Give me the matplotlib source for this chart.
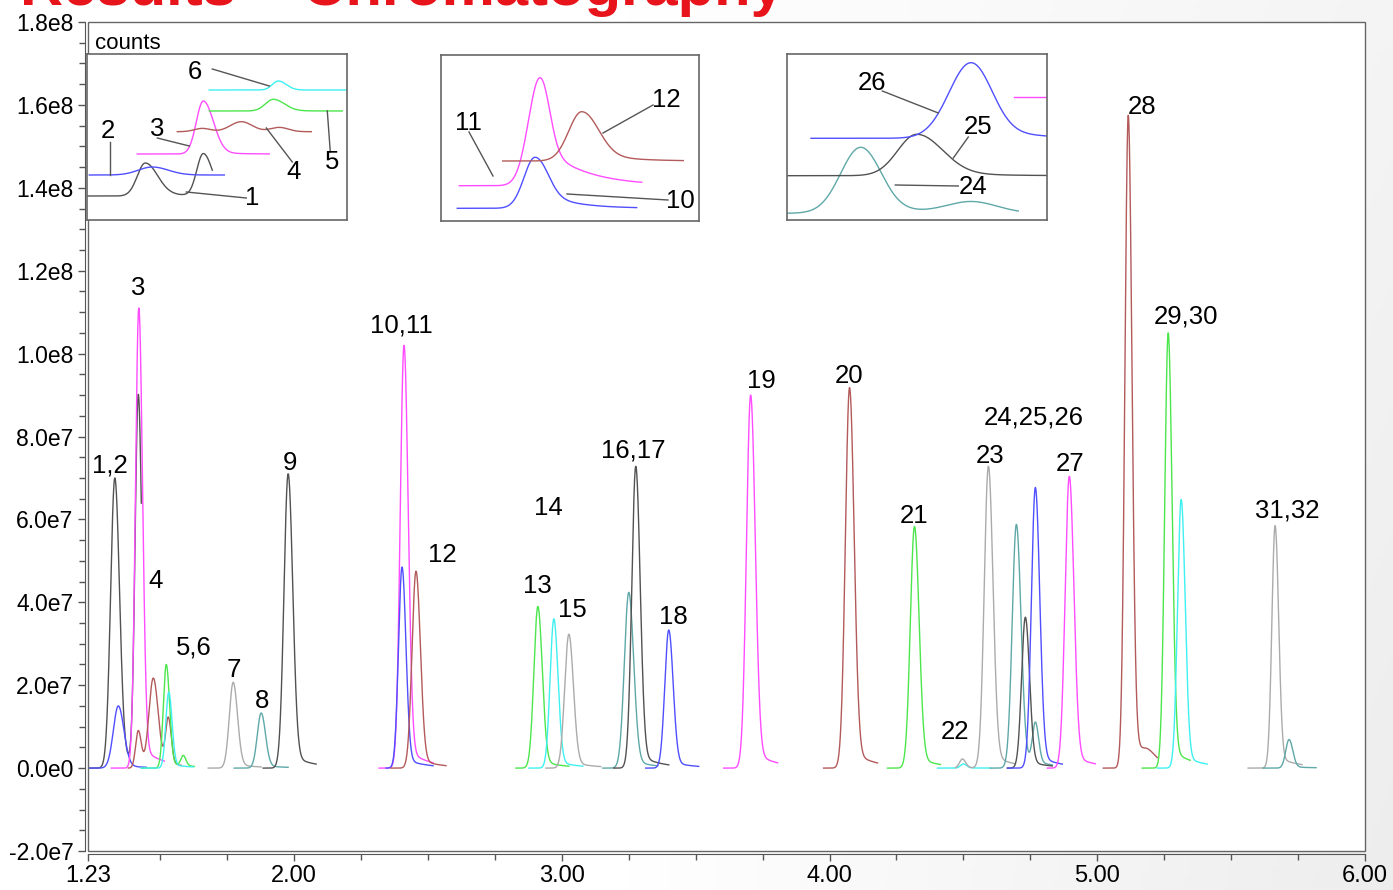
import numpy as np
import matplotlib
matplotlib.use("Agg")
import matplotlib.pyplot as plt
from matplotlib.patches import Rectangle
from matplotlib.ticker import FixedLocator

plt.rcParams['font.family'] = ['Liberation Sans', 'DejaVu Sans']

# ---------------- main chromatogram data ----------------
DG, BL, MG, BR, GR, CY, LG, TL = ('#525252', '#4f4fff', '#ff4cff', '#b35a5a',
                                  '#4ce64c', '#3ff0f0', '#ababab', '#5fa8a8')

trace_color = [DG, BL, MG, BR, GR, CY, LG, TL, DG, MG, BL, BR, GR, CY, LG, TL,
               DG, BL, MG, BR, GR, CY, LG, TL, DG, BL, MG, BR, GR, CY, LG, TL]
trace_start = [1.2301, 1.2301, 1.3172, 1.3806, 1.4291, 1.4291, 1.6791, 1.7761,
               1.8843, 2.3172, 2.3433, 2.3619, 2.8284, 2.8769, 2.9403, 3.1530,
               3.1940, 3.3134, 3.6045, 3.9776, 4.2164, 4.4030, 4.4701, 4.6007,
               4.6642, 4.6642, 4.8134, 5.0224, 5.1679, 5.2239, 5.5634, 5.6194]
trace_end = [1.4291, 1.4478, 1.5149, 1.5784, 1.6269, 1.6231, 1.8769, 1.9776,
             2.0821, 2.5187, 2.5187, 2.5672, 3.0261, 3.0784, 3.1455, 3.3582,
             3.3993, 3.5112, 3.8060, 4.1791, 4.4142, 4.6007, 4.6940, 4.8321,
             4.8321, 4.8694, 4.9925, 5.2239, 5.3470, 5.4104, 5.7649, 5.8172]

# peaks: trace index, retention time (min), height (counts), width sigma (min)
peak_trace = [0, 0, 1, 2, 3, 3, 3, 4, 4, 5, 6, 7, 8, 9, 10, 11, 12, 13, 14, 15,
              16, 17, 18, 19, 20, 21, 22, 22, 23, 23, 24, 25, 26, 27, 27, 28,
              29, 30, 31]
peak_rt = [1.3302, 1.4179, 1.3433, 1.4198, 1.4179, 1.4739, 1.5299, 1.5224,
           1.5858, 1.5317, 1.7724, 1.8769, 1.9776, 2.4104, 2.4030, 2.4552,
           2.9104, 2.9701, 3.0261, 3.2500, 3.2761, 3.3993, 3.7052, 4.0746,
           4.3172, 4.5000, 4.4963, 4.5933, 4.6978, 4.7687, 4.7313, 4.7687,
           4.8955, 5.1157, 5.1903, 5.2649, 5.3134, 5.6642, 5.7164]
peak_height = [7.00e7, 8.90e7, 1.50e7, 1.11e8, 9.0e6, 2.15e7, 1.15e7, 2.50e7,
               2.5e6, 1.83e7, 2.07e7, 1.33e7, 7.10e7, 1.02e8, 4.85e7, 4.75e7,
               3.90e7, 3.60e7, 3.23e7, 4.24e7, 7.28e7, 3.33e7, 9.00e7, 9.18e7,
               5.83e7, 1.0e6, 2.2e6, 7.28e7, 5.88e7, 9.9e6, 3.64e7, 6.77e7,
               7.04e7, 1.575e8, 1.5e6, 1.05e8, 6.48e7, 5.85e7, 6.9e6]
peak_sigma = [0.0157, 0.0119, 0.0187, 0.0125, 0.0100, 0.0165, 0.0100, 0.0110,
              0.0090, 0.0110, 0.0145, 0.0145, 0.0155, 0.0140, 0.0132, 0.0148,
              0.0148, 0.0140, 0.0155, 0.0165, 0.0148, 0.0148, 0.0155, 0.0155,
              0.0155, 0.0110, 0.0110, 0.0155, 0.0155, 0.0110, 0.0140, 0.0148,
              0.0155, 0.0125, 0.0200, 0.0130, 0.0135, 0.0120, 0.0125]

# peak labels
label_text = ["1,2", "3", "4", "5,6", "7", "8", "9", "10,11", "12", "13", "14",
              "15", "16,17", "18", "19", "20", "21", "22", "23", "24,25,26",
              "27", "28", "29,30", "31,32"]
label_t = [1.3108, 1.4179, 1.4813, 1.6257, 1.7750, 1.8806, 1.9825, 2.3993,
           2.5549, 2.9093, 2.9489, 3.0399, 3.2675, 3.4168, 3.7463, 4.0746,
           4.3146, 4.4701, 4.6007, 4.7623, 4.8993, 5.1690, 5.3310, 5.7078]
label_v = [7.30e7, 1.159e8, 4.51e7, 2.91e7, 2.36e7, 1.62e7, 7.37e7, 1.0676e8,
           5.13e7, 4.39e7, 6.27e7, 3.81e7, 7.67e7, 3.65e7, 9.35e7, 9.47e7,
           6.08e7, 8.6e6, 7.54e7, 8.45e7, 7.33e7, 1.594e8, 1.090e8, 6.22e7]

x_ticks = [1.23, 2.0, 3.0, 4.0, 5.0, 6.0]
x_ticklabels = ["1.23", "2.00", "3.00", "4.00", "5.00", "6.00"]
y_ticks = [-2e7, 0, 2e7, 4e7, 6e7, 8e7, 1e8, 1.2e8, 1.4e8, 1.6e8, 1.8e8]
y_ticklabels = ["-2.0e7", "0.0e0", "2.0e7", "4.0e7", "6.0e7", "8.0e7",
                "1.0e8", "1.2e8", "1.4e8", "1.6e8", "1.8e8"]

# ---------------- inset data (inset pixel units) ----------------
# peaks: (centre, height, sigma_left, sigma_right, tail_fraction, tail_length)
ins1_color = [DG, BL, MG, BR, GR, CY]
ins1_start = [0, 2, 50, 90, 122, 122]
ins1_end = [125, 137, 182, 224, 255, 259]
ins1_base = [24, 45, 66, 88.3, 109, 130]
ins1_peaks = [[(58, 33, 8, 12, 0.10, 30), (116, 42, 6.5, 9, 0.0, 10)],
              [(65, 8, 14, 16, 0.0, 10)],
              [(116, 53, 7, 10, 0.05, 20)],
              [(115, 3.3, 8, 8, 0, 10), (154, 10, 11, 11, 0, 10), (192, 4.3, 9, 9, 0, 10)],
              [(186, 11.7, 8, 11, 0.05, 20)],
              [(191, 9, 6, 8, 0.0, 10)]]
ins1_lab = ["6", "2", "3", "4", "5", "1"]
ins1_lab_xy = [(108, 148), (21, 89), (70, 91), (206, 48), (245, 58), (165, 22)]
ins1_lead = [(125, 151, 182, 134), (23, 78, 23, 45), (70, 82, 102, 74),
             (205, 58, 179, 92), (243, 68, 240, 109), (159, 22, 99, 28)]

ins2_color = [BL, MG, BR]
ins2_start = [16.3, 18.3, 61.7]
ins2_end = [195.7, 200.7, 242.3]
ins2_base = [12.7, 35.3, 60]
ins2_peaks = [[(94, 51, 11, 12, 0.4, 30)],
              [(99, 108, 11.5, 9, 0.4, 40)],
              [(140.7, 49.3, 13, 16, 0.25, 30)]]
ins2_lab = ["11", "12", "10"]
ins2_lab_xy = [(27, 98), (225, 121), (239, 20)]
ins2_lead = [(28, 89, 52, 45), (212, 116, 162, 88), (227, 21, 126, 27)]

ins3_color = [TL, DG, BL, MG]
ins3_start = [0, 0, 23.7, 227]
ins3_end = [231, 260, 260, 260]
ins3_base = [6.7, 44.3, 81.7, 122.5]
ins3_peaks = [[(73.4, 66, 20, 20, 0.08, 60), (184.4, 11, 25, 25, 0, 10)],
              [(129.4, 41.4, 19, 25, 0.15, 40)],
              [(183.7, 75.6, 22, 20, 0.2, 40)],
              []]
ins3_lab = ["26", "25", "24"]
ins3_lab_xy = [(85, 137), (191, 93), (186, 33)]
ins3_lead = [(95, 129, 151, 107), (181, 83, 166, 62), (171, 34, 108, 35)]


def peak_sum(x, peaks):
    y = np.zeros_like(x)
    for c, h, sl, sr, a, tau in peaks:
        d = x - c
        s = np.where(d < 0, sl, sr)
        g = np.exp(-0.5 * (d / s) ** 2)
        tail = np.where(d > 0, a * (1 - g) * np.exp(-np.clip(d, 0, None) / tau), 0.0)
        y += h * (g + tail)
    return y


# ---------------- figure ----------------
W, H = 1393, 890
fig = plt.figure(figsize=(W / 100, H / 100), dpi=100)

# slide background (light grey towards the right)
bg = fig.add_axes([0, 0, 1, 1], zorder=-10)
gx = np.linspace(0, 1, 300)
gy = np.linspace(0, 1, 200)
GX, GY = np.meshgrid(gx, gy)
shade = 1 - 0.07 * np.clip((GX - 0.45) / 0.55, 0, 1) * (0.6 + 0.4 * GY)
bg.imshow(np.dstack([shade] * 3), extent=[0, 1, 0, 1], aspect='auto', origin='upper')
bg.axis('off')

L, R, T, B = 88, 1365, 22, 851
ax = fig.add_axes([L / W, 1 - B / H, (R - L) / W, (B - T) / H])
ax.set_facecolor('white')

for i in range(len(trace_color)):
    t = np.linspace(trace_start[i], trace_end[i], 500)
    pk = [(peak_rt[k], peak_height[k], peak_sigma[k], 1.1 * peak_sigma[k], 0.05, 0.08)
          for k in range(len(peak_trace)) if peak_trace[k] == i]
    ax.plot(t, peak_sum(t, pk), color=trace_color[i], lw=1.0)

for s, tx, vy in zip(label_text, label_t, label_v):
    ax.text(tx, vy, s, fontsize=18.5, ha='center', va='center', color='black')

ax.set_xlim(1.23, 6.0)
ax.set_ylim(-2e7, 1.8e8)
ax.set_xticks(x_ticks)
ax.set_xticklabels(x_ticklabels)
ax.set_yticks(y_ticks)
ax.set_yticklabels(y_ticklabels)
ax.xaxis.set_minor_locator(FixedLocator(np.arange(1.5, 6.0, 0.25)))
ax.yaxis.set_minor_locator(FixedLocator(np.arange(-2e7, 1.8e8, 5e6)))
ax.tick_params(which='both', direction='out', color='#555555', width=1)
ax.tick_params(which='major', length=5)
ax.tick_params(which='minor', length=4)
ax.tick_params(axis='x', which='major', labelsize=17, pad=2.5)
ax.tick_params(axis='y', which='major', labelsize=16.5, pad=3)

for sp in ['top', 'right']:
    ax.spines[sp].set_visible(False)
for sp in ['left', 'bottom']:
    ax.spines[sp].set_position(('outward', 2.5))
    ax.spines[sp].set_color('#555555')
ax.add_patch(Rectangle((0, 0), 1, 1, transform=ax.transAxes, fill=False,
                       edgecolor='#666666', lw=1.0, clip_on=False, zorder=5))

ax.text(0.0055, 0.974, "counts", transform=ax.transAxes, fontsize=16,
        ha='left', va='center')

fig.text(20 / W, 1 - 5 / H, "Results \u2013 Chromatography", fontsize=43,
         fontweight='bold', color='#e8141c', ha='left', va='baseline')


def draw_inset(box, colors, starts, ends, bases, peaks, labs, lab_xy, leads):
    x0, y0, x1, y1 = box
    w, h = x1 - x0, y1 - y0
    ia = fig.add_axes([x0 / W, 1 - y1 / H, w / W, h / H], zorder=5)
    ia.set_facecolor('white')
    for c, s, e, b, pk in zip(colors, starts, ends, bases, peaks):
        x = np.linspace(s, e, 400)
        ia.plot(x, b + peak_sum(x, pk), color=c, lw=1.0)
    for (a0, b0, a1, b1) in leads:
        ia.plot([a0, a1], [b0, b1], color='#555555', lw=1.0)
    for s, (lx, ly) in zip(labs, lab_xy):
        ia.text(lx, ly, s, fontsize=18.5, ha='center', va='center')
    ia.set_xlim(0, w)
    ia.set_ylim(0, h)
    ia.set_xticks([])
    ia.set_yticks([])
    for sp in ia.spines.values():
        sp.set_color('#666666')
        sp.set_linewidth(1.2)


draw_inset((87.3, 54.3, 346.7, 220), ins1_color, ins1_start, ins1_end, ins1_base,
           ins1_peaks, ins1_lab, ins1_lab_xy, ins1_lead)
draw_inset((441, 55, 699.3, 221), ins2_color, ins2_start, ins2_end, ins2_base,
           ins2_peaks, ins2_lab, ins2_lab_xy, ins2_lead)
draw_inset((787.3, 54.3, 1046.7, 220), ins3_color, ins3_start, ins3_end, ins3_base,
           ins3_peaks, ins3_lab, ins3_lab_xy, ins3_lead)

fig.savefig("out.png", dpi=100)
